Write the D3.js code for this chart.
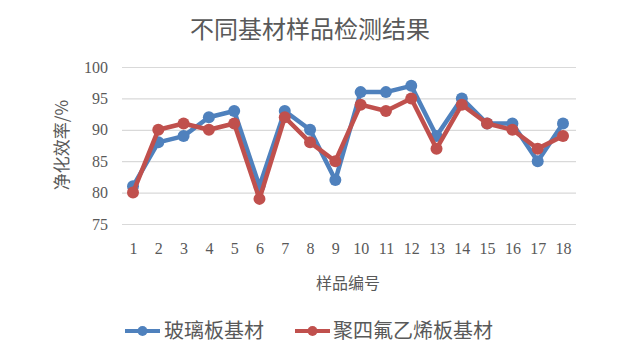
<!DOCTYPE html>
<html><head><meta charset="utf-8">
<script src="https://cdn.jsdelivr.net/npm/d3@7"></script>
<style>body{margin:0;background:#fff}</style>
</head><body><svg id="c" width="644" height="358"></svg>
<script>
const categories = ["1","2","3","4","5","6","7","8","9","10","11","12","13","14","15","16","17","18"];
const glass = [81,88,89,92,93,81,93,90,82,96,96,97,89,95,91,91,85,91];
const ptfe = [80,90,91,90,91,79,92,88,85,94,93,95,87,94,91,90,87,89];
const yTicks = [75,80,85,90,95,100];
const seriesNames = ["玻璃板基材","聚四氟乙烯板基材"];
const colors = ["#4F81BD","#C0504D"];

(function(){
const svg = d3.select("#c");
const pl = 122, pr = 576, pt = 67, pb = 224;
const x = d3.scalePoint().domain(categories).range([133, 563]);
const y = d3.scaleLinear().domain([75,100]).range([pb, pt]);
const serif = "'Liberation Serif','Times New Roman',serif";
const cjk = "'Noto Sans CJK SC','Noto Sans',sans-serif";

svg.append("text").attr("x", 310).attr("y", 38).attr("text-anchor","middle")
  .attr("font-family", cjk).attr("font-size", 24).attr("fill","#595959").text("不同基材样品检测结果");

const yAxis = d3.axisLeft(y).tickValues(yTicks).tickSize(-(pr-pl)).tickPadding(14);
const gy = svg.append("g").attr("transform", `translate(${pl},0)`).call(yAxis);
gy.select(".domain").remove();
gy.selectAll("line").attr("stroke","#d9d9d9").attr("stroke-width",1.2);
gy.selectAll("text").attr("font-family", serif).attr("font-size", 16).attr("fill","#595959");

const xAxis = d3.axisBottom(x).tickSize(0).tickPadding(19);
const gx = svg.append("g").attr("transform", `translate(0,${pb})`).call(xAxis);
gx.select(".domain").remove();
gx.selectAll("text").attr("font-family", serif).attr("font-size", 16).attr("fill","#595959");

svg.append("text").attr("transform","translate(68,145) rotate(-90)").attr("text-anchor","middle")
  .attr("font-family", cjk).attr("font-size", 17).attr("fill","#595959").text("净化效率/%");
svg.append("text").attr("x", 348).attr("y", 289).attr("text-anchor","middle")
  .attr("font-family", cjk).attr("font-size", 16).attr("fill","#595959").text("样品编号");

const line = d3.line().x((d,i)=>x(categories[i])).y(d=>y(d));
[glass, ptfe].forEach((s, k) => {
  const g = svg.append("g");
  g.append("path").datum(s).attr("d", line).attr("fill","none").attr("stroke", colors[k]).attr("stroke-width", 4.5).attr("stroke-linejoin","round");
  g.selectAll("circle").data(s).join("circle").attr("cx",(d,i)=>x(categories[i])).attr("cy",d=>y(d)).attr("r",6).attr("fill",colors[k]);
});

const leg = [{x0:125, tx:164, name:seriesNames[0]}, {x0:295, tx:333, name:seriesNames[1]}];
leg.forEach((l,k)=>{
  svg.append("line").attr("x1",l.x0).attr("x2",l.x0+35).attr("y1",331).attr("y2",331).attr("stroke",colors[k]).attr("stroke-width",4);
  svg.append("circle").attr("cx",l.x0+17.5).attr("cy",331).attr("r",5).attr("fill",colors[k]);
  svg.append("text").attr("x",l.tx).attr("y",338).attr("font-family",cjk).attr("font-size",20).attr("fill","#595959").text(l.name);
});
})();
</script></body></html>
